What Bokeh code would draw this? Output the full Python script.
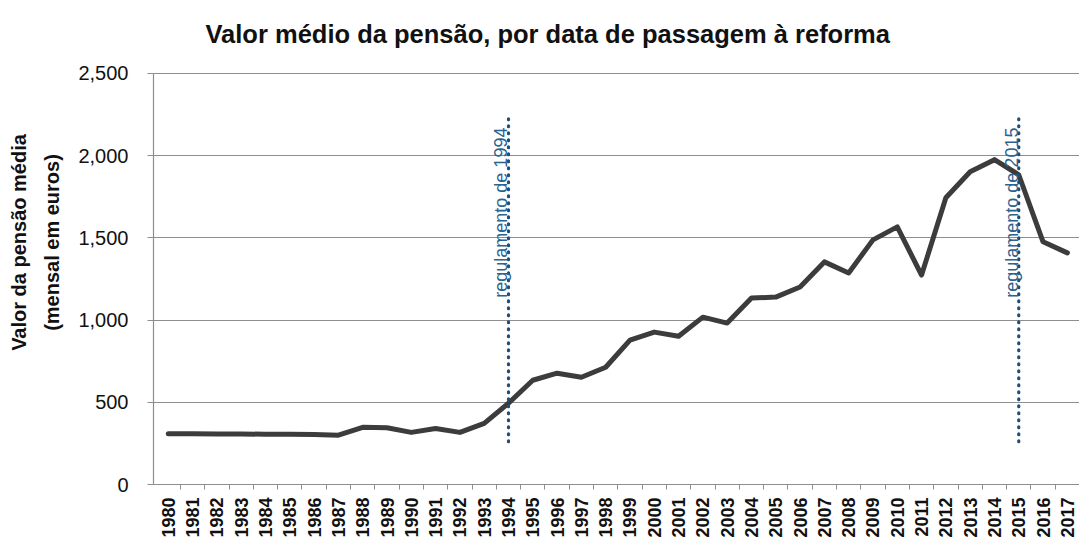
import numpy as np
from bokeh.plotting import figure
from bokeh.models import FixedTicker, NumeralTickFormatter, Range1d, ColumnDataSource
from bokeh.core.properties import value
from bokeh.embed import file_html
from bokeh.resources import INLINE

years = list(range(1980, 2018))
pension = [308, 308, 307, 307, 306, 306, 304, 300, 348, 345, 317, 341, 317, 372, 494,
           634, 677, 652, 713, 878, 927, 902, 1018, 982, 1134, 1140, 1201, 1354, 1287, 1488,
           1567, 1274, 1744, 1902, 1976, 1884, 1476, 1409]

reg_years = [1994, 2015]
reg_labels = ["regulamento de 1994", "regulamento de 2015"]
reg_bottom = [260, 260]
reg_top = [2230, 2230]
reg_text_y = [2171, 2171]

y_ticks = [0, 500, 1000, 1500, 2000, 2500]

title_text = "Valor médio da pensão, por data de passagem à reforma"
y_label = "Valor da pensão média\n(mensal em euros)"

FONT = "Liberation Sans"
GRAY = "#8e8e8e"

X0, X1 = 1979.39, 2017.5
Y_TOP = 2944          # frame extends up to the title row; axis/grid stop at 2500
TITLE_Y = 2743

p = figure(width=1079, height=542, output_backend="svg", toolbar_location=None,
           x_range=Range1d(X0, X1), y_range=Range1d(0, Y_TOP),
           min_border_left=153, min_border_bottom=58, min_border_top=0, min_border_right=0)

p.outline_line_color = None
p.background_fill_color = "white"
p.border_fill_color = "white"

# grid
p.xgrid.grid_line_color = None
p.ygrid.grid_line_color = GRAY
p.ygrid.grid_line_width = 1.2
p.ygrid.ticker = FixedTicker(ticks=y_ticks)

# y axis
p.yaxis.bounds = (0, 2500)
p.yaxis.ticker = FixedTicker(ticks=y_ticks)
p.yaxis.formatter = NumeralTickFormatter(format="0,0")
p.yaxis.axis_line_color = GRAY
p.yaxis.axis_line_width = 1.2
p.yaxis.major_tick_line_color = GRAY
p.yaxis.major_tick_out = 6
p.yaxis.major_tick_in = 0
p.yaxis.minor_tick_line_color = None
p.yaxis.major_label_text_font = FONT
p.yaxis.major_label_text_font_size = "20px"
p.yaxis.major_label_text_color = "#111111"
p.yaxis.major_label_standoff = 19
p.yaxis.axis_label = y_label
p.yaxis.axis_label_text_font = FONT
p.yaxis.axis_label_text_font_size = "20px"
p.yaxis.axis_label_text_font_style = "bold"
p.yaxis.axis_label_text_color = "#111111"
p.yaxis.axis_label_text_line_height = 1.5
p.yaxis.axis_label_standoff = 12

# x axis
p.xaxis.ticker = FixedTicker(ticks=years, minor_ticks=[y + 0.5 for y in years])
p.xaxis.axis_line_color = GRAY
p.xaxis.axis_line_width = 1.2
p.xaxis.major_tick_line_color = None
p.xaxis.minor_tick_line_color = GRAY
p.xaxis.minor_tick_out = 5
p.xaxis.minor_tick_in = 0
p.xaxis.major_label_orientation = np.pi / 2
p.xaxis.major_label_text_font = FONT
p.xaxis.major_label_text_font_size = "18px"
p.xaxis.major_label_text_font_style = "bold"
p.xaxis.major_label_text_color = "#111111"
p.xaxis.major_label_standoff = 7

# data line
p.line(years, pension, line_color="#3c3c3c", line_width=5, line_join="round", line_cap="round")

# regulation markers
src = ColumnDataSource(dict(x=reg_years, y0=reg_bottom, y1=reg_top, ty=reg_text_y, label=reg_labels))
p.segment(x0="x", y0="y0", x1="x", y1="y1", source=src, line_color="#1f4e79", line_width=3.2,
          line_dash="1 6", line_cap="round")
p.text(x="x", y="ty", text="label", source=src, angle=np.pi / 2, text_align="right",
       text_baseline="middle", x_offset=-7, text_font=value(FONT), text_font_size="18px",
       text_color="#2a6390")

# title (drawn inside the top of the frame so it can sit at the reference height)
p.text(x=[X0], y=[TITLE_Y], text=[title_text], x_offset=52, text_align="left",
       text_baseline="middle", text_font=value(FONT), text_font_size="25.5px",
       text_font_style="bold", text_color="#111111")

open("out.html", "w").write(file_html(p, INLINE))
